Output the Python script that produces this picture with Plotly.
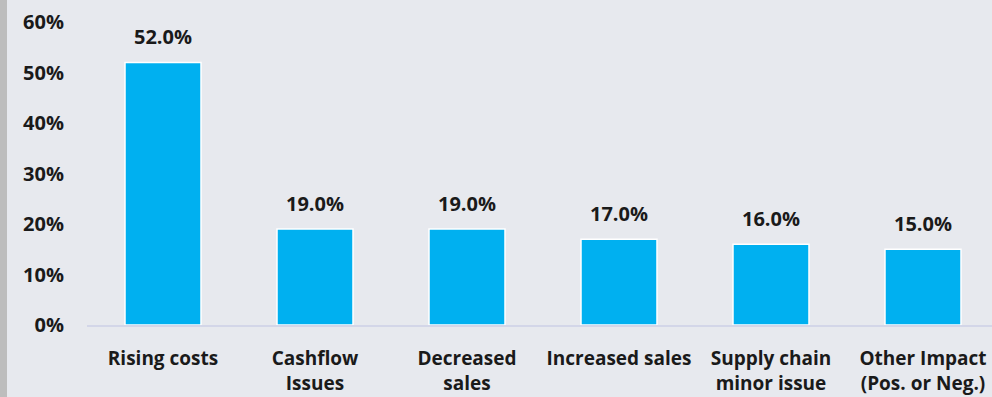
import plotly.graph_objects as go

categories = ["Rising costs", "Cashflow<br>Issues", "Decreased<br>sales", "Increased sales",
              "Supply chain<br>minor issue", "Other Impact<br>(Pos. or Neg.)"]
values = [52.0, 19.0, 19.0, 17.0, 16.0, 15.0]
y_ticks = [0, 10, 20, 30, 40, 50, 60]
y_tick_labels = [f"{v}%" for v in y_ticks]

W, H = 992, 397
L, R, T, B = 87, 0, 22, 72
FONT = "Open Sans"
TXT = "#1a1a1a"

fig = go.Figure(go.Bar(
    x=list(range(len(categories))), y=values,
    marker=dict(color="#00b0f0", line=dict(color="white", width=1.5)),
    width=0.5,
    cliponaxis=False,
))

for i, v in enumerate(values):
    fig.add_annotation(x=i, y=v, text=f"{v:.1f}%", showarrow=False,
                       yanchor="bottom", yshift=10,
                       font=dict(family=FONT, size=20, color=TXT, weight="bold"))

fig.update_layout(
    width=W, height=H,
    margin=dict(l=L, r=R, t=T, b=B),
    paper_bgcolor="#e7e9ee", plot_bgcolor="#e7e9ee",
    showlegend=False,
    font=dict(family=FONT, size=19, color=TXT, weight="bold"),
    xaxis=dict(
        tickmode="array", tickvals=list(range(len(categories))), ticktext=categories,
        range=[-0.5, 5.454], showgrid=False, zeroline=False,
        showline=True, linecolor="#d3d6e8", linewidth=2,
        ticks="", ticklabelstandoff=15,
        tickfont=dict(family=FONT, size=19, color=TXT, weight="bold"),
    ),
    yaxis=dict(
        range=[0, 60], tickmode="array", tickvals=y_ticks, ticktext=y_tick_labels,
        showgrid=False, zeroline=False, showline=False, ticks="",
        ticklabelstandoff=22,
        tickfont=dict(family=FONT, size=20, color=TXT, weight="bold"),
    ),
    shapes=[dict(type="rect", xref="paper", yref="paper",
                 x0=-L / (W - L - R), x1=-(L - 7) / (W - L - R),
                 y0=-B / (H - T - B), y1=1 + T / (H - T - B),
                 fillcolor="#bdbdbd", line=dict(width=0), layer="below")],
)

fig.write_html("out.html")
